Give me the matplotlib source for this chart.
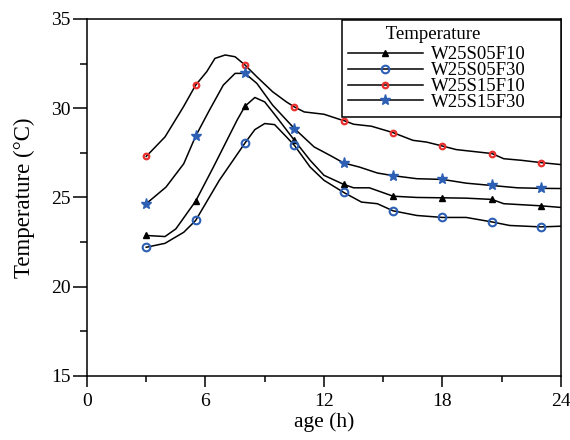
import matplotlib
matplotlib.use("Agg")
import matplotlib.pyplot as plt
from matplotlib.ticker import MultipleLocator

plt.rcParams['font.family'] = ['Liberation Serif', 'DejaVu Serif']

# hours at which the markers sit
marker_hours = [3, 5.5, 8, 10.5, 13, 15.5, 18, 20.5, 23]

# W25S05F10
t_a = [3, 3.95, 4.5, 5.5, 6.4, 7.6, 8.0, 8.5, 9.0, 9.6, 10.5, 11.3, 12.0, 13.0,
       13.5, 14.3, 15.5, 16.7, 18.0, 19.2, 20.5, 21.1, 23.0, 24.0]
v_a = [22.87, 22.81, 23.24, 24.79, 26.7, 29.33, 30.11, 30.6, 30.35, 29.51, 28.2,
       27.08, 26.24, 25.73, 25.54, 25.54, 25.07, 25.0, 24.98, 24.96, 24.89, 24.65,
       24.53, 24.44]

# W25S05F30
t_b = [3, 3.95, 4.9, 5.5, 6.7, 8.0, 8.5, 9.0, 9.5, 10.1, 10.5, 11.3, 12.0, 13.0,
       13.9, 14.7, 15.5, 16.7, 18.0, 19.2, 20.5, 21.4, 23.0, 24.0]
v_b = [22.21, 22.43, 23.05, 23.71, 25.96, 28.05, 28.8, 29.14, 29.08, 28.39, 27.92,
       26.7, 25.96, 25.28, 24.74, 24.65, 24.25, 23.99, 23.88, 23.88, 23.63, 23.43,
       23.35, 23.39]

# W25S15F10
t_c = [3, 3.95, 4.88, 5.5, 6.06, 6.48, 7.0, 7.5, 8.0, 8.6, 9.4, 10.1, 10.5, 11.0,
       12.0, 12.8, 13.0, 13.5, 14.4, 15.5, 16.5, 17.2, 18.0, 18.7, 20.5, 21.1, 22.0,
       23.0, 24.0]
v_c = [27.3, 28.39, 30.07, 31.29, 32.04, 32.79, 32.98, 32.88, 32.42, 31.76, 30.92,
       30.35, 30.07, 29.79, 29.66, 29.37, 29.31, 29.1, 28.99, 28.63, 28.2, 28.1,
       27.88, 27.68, 27.46, 27.17, 27.08, 26.95, 26.84]

# W25S15F30
t_d = [3, 4.0, 4.9, 5.5, 6.2, 6.9, 7.5, 8.0, 8.6, 9.4, 10.5, 11.5, 12.3, 13.0,
       13.8, 14.7, 15.5, 16.7, 18.0, 19.2, 20.5, 21.8, 23.0, 24.0]
v_d = [24.65, 25.58, 26.89, 28.43, 29.89, 31.29, 31.95, 31.95, 31.39, 30.17, 28.86,
       27.83, 27.36, 26.93, 26.7, 26.37, 26.22, 26.05, 26.01, 25.8, 25.67, 25.54,
       25.51, 25.5]

labels = ["W25S05F10", "W25S05F30", "W25S15F10", "W25S15F30"]

blue = "#2d5fb4"
red = "#e8312f"

fig = plt.figure(figsize=(5.7, 4.4), dpi=100)
ax = fig.add_axes([0.1526, 0.1455, 0.8316, 0.8115])


def marks(t):
    return [t.index(h) for h in marker_hours]


ax.plot(t_a, v_a, color="black", lw=1.1, marker="^", ms=5, mfc="black",
        mec="black", markevery=marks(t_a), label=labels[0])
ax.plot(t_b, v_b, color="black", lw=1.1, marker="o", ms=5.5, mfc="none",
        mec=blue, mew=1.5, markevery=marks(t_b), label=labels[1])
ax.plot(t_c, v_c, color="black", lw=1.1, marker="o", ms=4, mfc="none",
        mec=red, mew=1.6, markevery=marks(t_c), label=labels[2])
ax.plot(t_d, v_d, color="black", lw=1.1, marker="*", ms=8, mfc=blue,
        mec=blue, markevery=marks(t_d), label=labels[3])

ax.set_xlim(0, 24)
ax.set_ylim(15, 35)
ax.xaxis.set_major_locator(MultipleLocator(6))
ax.xaxis.set_minor_locator(MultipleLocator(3))
ax.yaxis.set_major_locator(MultipleLocator(5))
ax.yaxis.set_minor_locator(MultipleLocator(2.5))
ax.tick_params(axis="both", which="both", direction="out", width=1.1,
               labelsize=14)
ax.tick_params(axis="y", which="major", length=10, pad=2)
ax.tick_params(axis="y", which="minor", length=5)
ax.tick_params(axis="x", which="major", length=8, pad=4)
ax.tick_params(axis="x", which="minor", length=4)
for s in ax.spines.values():
    s.set_linewidth(1.1)

ax.set_xlabel("age (h)", fontsize=15.5, labelpad=2)
ax.set_ylabel("Temperature (°C)", fontsize=16.5, labelpad=11)

# legend box spans from x=0.538 to the right spine (expand mode keeps text left)
leg = ax.legend(loc="upper right", bbox_to_anchor=(0.538, 0.5, 0.462, 0.497),
                mode="expand", borderaxespad=0, fontsize=13.5,
                title="        Temperature", title_fontsize=13.5,
                alignment="left", frameon=True, fancybox=False,
                edgecolor="black", framealpha=1, handlelength=4.0,
                handletextpad=0.45, labelspacing=-0.07, borderpad=0.3)
leg.get_frame().set_linewidth(1.1)
leg._legend_box.sep = 2.7  # extra gap below the title

fig.savefig("out.png", dpi=100)
